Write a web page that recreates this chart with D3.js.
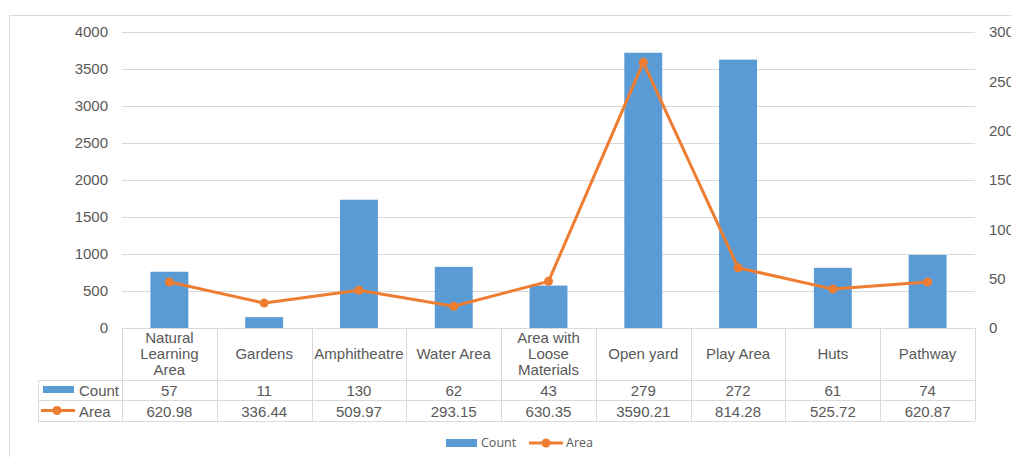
<!DOCTYPE html>
<html>
<head>
<meta charset="utf-8">
<script src="https://cdn.jsdelivr.net/npm/d3@7"></script>
<style>
  body { margin: 0; background: #fff; }
  svg { display: block; }
</style>
</head>
<body>
<script>
// Chart data
const categories = ["Natural Learning Area", "Gardens", "Amphitheatre", "Water Area",
  "Area with Loose Materials", "Open yard", "Play Area", "Huts", "Pathway"];
const categoryLines = [["Natural", "Learning", "Area"], ["Gardens"], ["Amphitheatre"], ["Water Area"],
  ["Area with", "Loose", "Materials"], ["Open yard"], ["Play Area"], ["Huts"], ["Pathway"]];
const counts = [57, 11, 130, 62, 43, 279, 272, 61, 74];
const areas = [620.98, 336.44, 509.97, 293.15, 630.35, 3590.21, 814.28, 525.72, 620.87];
const countLabels = ["57", "11", "130", "62", "43", "279", "272", "61", "74"];
const areaLabels = ["620.98", "336.44", "509.97", "293.15", "630.35", "3590.21", "814.28", "525.72", "620.87"];
const leftTicks = [0, 500, 1000, 1500, 2000, 2500, 3000, 3500, 4000];
const rightTicks = [0, 50, 100, 150, 200, 250, 300];

const w = 1011, h = 457;
const plot = { left: 122, right: 975, top: 32, bottom: 328 };
const tableLeft = 38;
const rowY = [380, 400, 421];
const grid = "#d9d9d9";
const textColor = "#595959";
const blue = "#5b9bd5", orange = "#ed7d31";
const font = "'Liberation Sans', Arial, sans-serif";
const fs = "15px";

const svg = d3.select("body").append("svg").attr("width", w).attr("height", h);

// outer chart border
svg.append("rect")
  .attr("x", 9.5).attr("y", 15.5)
  .attr("width", 1100).attr("height", 500)
  .attr("fill", "none").attr("stroke", grid);

const x = d3.scaleBand().domain(categories).range([plot.left, plot.right]);
const yLeft = d3.scaleLinear().domain([0, 4000]).range([plot.bottom, plot.top]);
const yRight = d3.scaleLinear().domain([0, 300]).range([plot.bottom, plot.top]);

// gridlines
svg.append("g").selectAll("line")
  .data(leftTicks.filter(t => t > 0))
  .join("line")
  .attr("x1", plot.left).attr("x2", plot.right)
  .attr("y1", d => Math.round(yLeft(d)) + 0.5).attr("y2", d => Math.round(yLeft(d)) + 0.5)
  .attr("stroke", grid);

// left axis
const leftAxis = svg.append("g")
  .attr("transform", `translate(${plot.left},0)`)
  .call(d3.axisLeft(yLeft).tickValues(leftTicks).tickFormat(d3.format("d")).tickSize(0).tickPadding(14));
leftAxis.select(".domain").remove();
leftAxis.selectAll("text").attr("fill", textColor).style("font-family", font).style("font-size", fs);

// right axis (labels run off the right edge, as in the original)
const rightAxis = svg.append("g")
  .attr("transform", `translate(${plot.right},0)`)
  .call(d3.axisRight(yRight).tickValues(rightTicks).tickFormat(d3.format("d")).tickSize(0).tickPadding(14));
rightAxis.select(".domain").remove();
rightAxis.selectAll("text").attr("fill", textColor).style("font-family", font).style("font-size", fs);

// bars (Count, secondary axis)
const barW = x.bandwidth() * 0.4;
svg.append("g").selectAll("rect")
  .data(categories)
  .join("rect")
  .attr("x", d => x(d) + (x.bandwidth() - barW) / 2)
  .attr("width", barW)
  .attr("y", (d, i) => yRight(counts[i]))
  .attr("height", (d, i) => plot.bottom - yRight(counts[i]))
  .attr("fill", blue);

// line (Area, primary axis)
const line = d3.line()
  .x(d => x(d.c) + x.bandwidth() / 2)
  .y(d => yLeft(d.v));
const pts = categories.map((c, i) => ({ c, v: areas[i] }));
svg.append("path")
  .datum(pts)
  .attr("d", line)
  .attr("fill", "none")
  .attr("stroke", orange)
  .attr("stroke-width", 3)
  .attr("stroke-linejoin", "round");
svg.append("g").selectAll("circle")
  .data(pts)
  .join("circle")
  .attr("cx", d => x(d.c) + x.bandwidth() / 2)
  .attr("cy", d => yLeft(d.v))
  .attr("r", 4.5)
  .attr("fill", orange);

// data table
const table = svg.append("g");
table.append("line")
  .attr("x1", plot.left).attr("x2", plot.right)
  .attr("y1", plot.bottom + 0.5).attr("y2", plot.bottom + 0.5)
  .attr("stroke", grid);
rowY.forEach(y => {
  table.append("line")
    .attr("x1", tableLeft).attr("x2", plot.right)
    .attr("y1", y + 0.5).attr("y2", y + 0.5)
    .attr("stroke", grid);
});
table.append("line")
  .attr("x1", tableLeft + 0.5).attr("x2", tableLeft + 0.5)
  .attr("y1", rowY[0]).attr("y2", rowY[2])
  .attr("stroke", grid);
const cols = categories.map(c => x(c)).concat([plot.right]);
table.selectAll(".vline")
  .data(cols)
  .join("line")
  .attr("class", "vline")
  .attr("x1", d => Math.round(d) + 0.5).attr("x2", d => Math.round(d) + 0.5)
  .attr("y1", plot.bottom).attr("y2", rowY[2])
  .attr("stroke", grid);

// header labels
const headerMid = (plot.bottom + rowY[0]) / 2;
categories.forEach((c, i) => {
  const lines = categoryLines[i];
  const lh = 16;
  const t = table.append("text")
    .attr("x", x(c) + x.bandwidth() / 2)
    .attr("text-anchor", "middle")
    .attr("fill", textColor)
    .style("font-family", font).style("font-size", fs);
  lines.forEach((l, j) => {
    t.append("tspan")
      .attr("x", x(c) + x.bandwidth() / 2)
      .attr("y", headerMid + (j - (lines.length - 1) / 2) * lh + 5)
      .text(l);
  });
});

// row values
[countLabels, areaLabels].forEach((vals, r) => {
  table.append("g").selectAll("text")
    .data(vals)
    .join("text")
    .attr("x", (d, i) => x(categories[i]) + x.bandwidth() / 2)
    .attr("y", (rowY[r] + rowY[r + 1]) / 2 + 6)
    .attr("text-anchor", "middle")
    .attr("fill", textColor)
    .style("font-family", font).style("font-size", fs)
    .text(d => d);
});

// row legend keys
table.append("rect").attr("x", 43).attr("y", 386).attr("width", 31).attr("height", 7).attr("fill", blue);
table.append("text").attr("x", 79).attr("y", 396).attr("fill", textColor)
  .style("font-family", font).style("font-size", fs).text("Count");
table.append("line").attr("x1", 41).attr("x2", 75).attr("y1", 410.5).attr("y2", 410.5)
  .attr("stroke", orange).attr("stroke-width", 3);
table.append("circle").attr("cx", 57).attr("cy", 410.5).attr("r", 4.5).attr("fill", orange);
table.append("text").attr("x", 79).attr("y", 417).attr("fill", textColor)
  .style("font-family", font).style("font-size", fs).text("Area");

// bottom legend
const legend = svg.append("g").attr("id", "legend");
legend.append("rect").attr("x", 446).attr("y", 439).attr("width", 31).attr("height", 8).attr("fill", blue);
legend.append("text").attr("x", 481).attr("y", 447).attr("fill", textColor)
  .style("font-family", "'Open Sans', sans-serif").style("font-size", "12.5px").text("Count");
legend.append("line").attr("x1", 529).attr("x2", 563).attr("y1", 443).attr("y2", 443)
  .attr("stroke", orange).attr("stroke-width", 3);
legend.append("circle").attr("cx", 546).attr("cy", 443).attr("r", 4.5).attr("fill", orange);
legend.append("text").attr("x", 566).attr("y", 447).attr("fill", textColor)
  .style("font-family", "'Open Sans', sans-serif").style("font-size", "12.5px").text("Area");
</script>
</body>
</html>
